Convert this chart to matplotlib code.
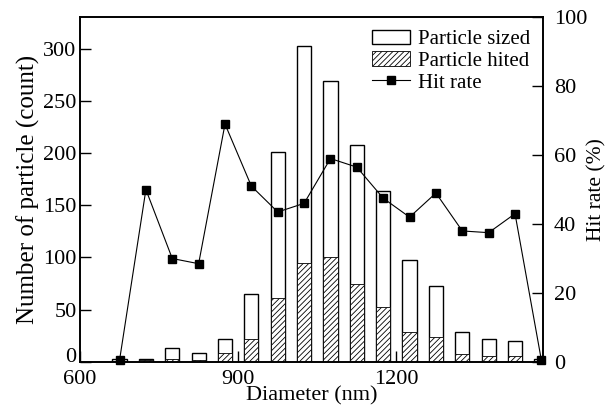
import matplotlib.pyplot as plt
import matplotlib.transforms as mtransforms
from matplotlib.lines import Line2D
from matplotlib.patches import Patch

plt.rcParams['font.family'] = ['Liberation Serif', 'DejaVu Serif']
plt.rcParams['hatch.linewidth'] = 0.6

diameters = [675, 725, 775, 825, 875, 925, 975, 1025, 1075, 1125, 1175,
             1225, 1275, 1325, 1375, 1425, 1475]
sized = [3, 3, 13, 9, 22, 65, 201, 302, 269, 208, 164, 98, 73, 29, 22, 20, 3]
hited = [1, 2, 3, 2, 9, 22, 61, 95, 100, 75, 53, 29, 24, 8, 6, 6, 1]
hit_rate = [0.5, 50, 30, 28.5, 69, 51, 43.5, 46, 59, 56.5, 47.5, 42, 49,
            38, 37.5, 43, 0.5]

fig, ax = plt.subplots(figsize=(6.06, 4.09), dpi=100)
fig.subplots_adjust(left=0.132, right=0.896, bottom=0.115, top=0.958)

ax.bar(diameters, sized, width=27, color='white', edgecolor='black', linewidth=1.0)
ax.bar(diameters, hited, width=27, color='white', edgecolor='black',
       linewidth=0.6, hatch='//////')

ax.set_xlim(600, 1478)
ax.set_ylim(0, 330)
ax.set_xticks([600, 900, 1200])
ax.set_yticks(range(0, 301, 50))
ax.tick_params(direction='in', length=8, width=1, labelsize=16)
ax.tick_params(axis='y', pad=2.5)
ax.tick_params(axis='x', pad=5.5)
ax.set_xlabel('Diameter (nm)', fontsize=16, labelpad=-2)
ax.set_ylabel('Number of particle (count)', fontsize=18, labelpad=2)

# the "0" sits a little higher than the tick in the original, above "600"
zero_lbl = ax.get_yticklabels()[0]
zero_lbl.set_transform(zero_lbl.get_transform() +
                       mtransforms.ScaledTranslation(0, 5 / 72, fig.dpi_scale_trans))

ax2 = ax.twinx()
ax2.plot(diameters, hit_rate, color='black', linewidth=0.8, marker='s',
         markersize=6, clip_on=False)
ax2.set_ylim(0, 100)
ax2.set_yticks(range(0, 101, 20))
ax2.tick_params(direction='in', length=8, width=1, labelsize=16, pad=8)
ax2.set_ylabel('Hit rate (%)', fontsize=15.5, labelpad=0)

for a in (ax, ax2):
    for s in a.spines.values():
        s.set_linewidth(1.2)

handles = [
    Patch(facecolor='white', edgecolor='black', linewidth=1.0),
    Patch(facecolor='white', edgecolor='black', linewidth=0.6, hatch='//////'),
    Line2D([], [], color='black', linewidth=0.8, marker='s', markersize=6),
]
labels = ['Particle sized', 'Particle hited', 'Hit rate']
ax2.legend(handles, labels, loc='upper right', frameon=False, fontsize=15,
           handlelength=1.8, labelspacing=0.1, handletextpad=0.4,
           borderaxespad=0.2)

fig.savefig('out.png', dpi=100)
